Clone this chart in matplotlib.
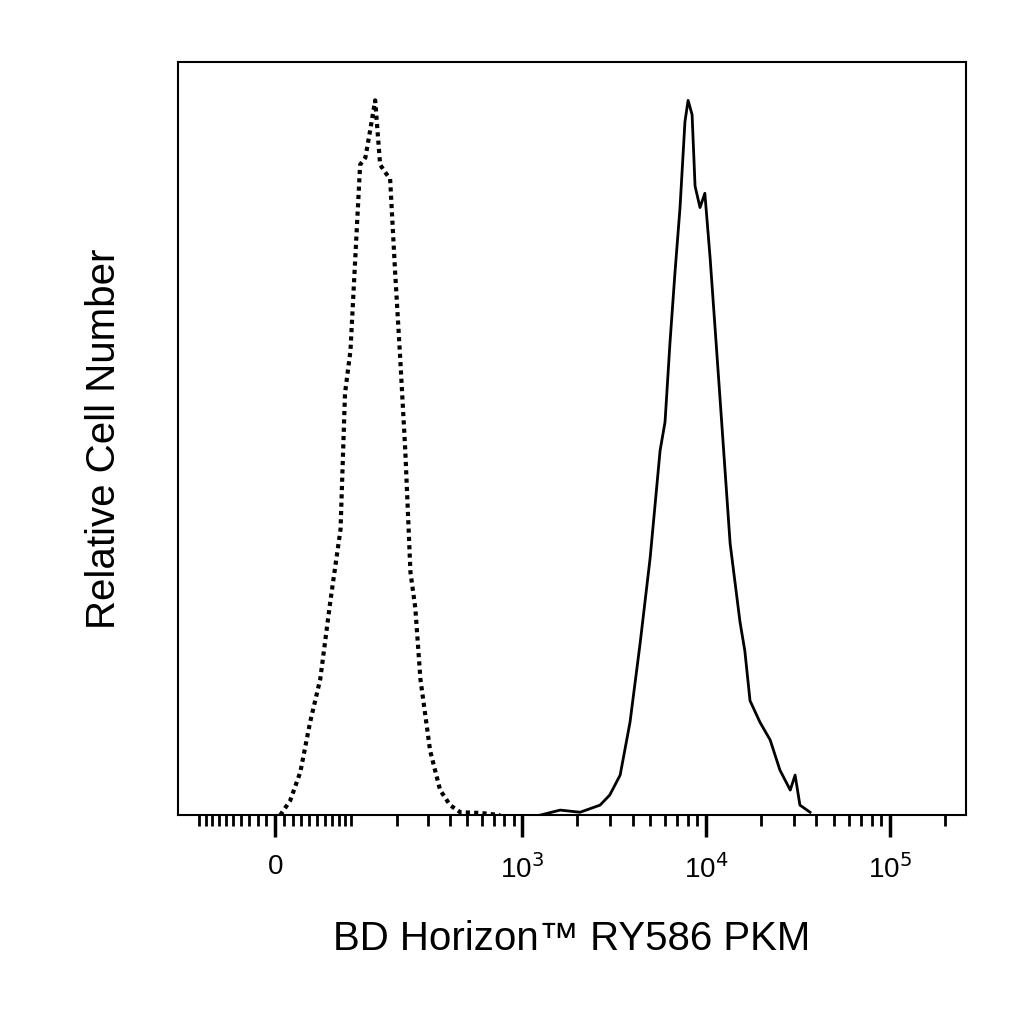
import numpy as np
import matplotlib
matplotlib.use("Agg")
import matplotlib.pyplot as plt
from matplotlib.ticker import FixedLocator, NullFormatter

plt.rcParams['font.family'] = ['Liberation Sans', 'DejaVu Sans']

# Isotype control (dotted)
ctrl_x = [5.7, 17, 29, 41, 54, 68, 83, 90, 99, 116, 126, 136, 146, 157, 168, 181, 194, 208,
          223, 239, 255, 273, 310, 353, 401, 457, 590, 759]
ctrl_y = [0, 2, 6, 13, 19, 30, 40, 59, 65, 91, 92, 96, 100, 91, 90, 89, 76, 64,
          51, 34, 29, 19, 9, 3.5, 1.4, 0.4, 0.3, 0]
# Stained sample (solid)
stain_x = [1256, 1612, 2070, 2660, 3000, 3420, 3870, 4390, 4980, 5640, 6000, 6380, 6800, 7240,
           7700, 8010, 8420, 8740, 9300, 9880, 10550, 11240, 11970, 13560, 15350, 16300, 17400,
           19700, 22400, 25300, 28800, 30600, 32500, 36900]
stain_y = [0, 0.7, 0.4, 1.4, 2.8, 5.6, 13, 24, 36, 51, 55, 66, 76, 85,
           97, 100, 98, 88, 85, 87, 78, 68, 58, 38, 27, 23, 16,
           13, 10.5, 6.3, 3.5, 5.6, 1.4, 0.4]

major_ticks = [0, 1000, 10000, 100000]
major_labels = ["0", r"10$^3$", r"10$^4$", r"10$^5$"]

C = 91.0
fwd = lambda x: np.arcsinh(np.asarray(x) / C)
inv = lambda t: C * np.sinh(np.asarray(t))

fig = plt.figure(figsize=(10.24, 10.24), dpi=100)
ax = fig.add_axes([0.174, 0.204, 0.769, 0.735])
ax.set_xscale('function', functions=(fwd, inv))
ax.plot(ctrl_x, ctrl_y, color='black', lw=3, linestyle=(0, (1, 1)))
ax.plot(stain_x, stain_y, color='black', lw=2)
ax.set_xlim(-140, 259000)
ax.set_ylim(0, 105.3)

minor = [-v for v in range(10, 101, 10)] + list(range(10, 100, 10)) + list(range(100, 1000, 100)) \
        + list(range(2000, 10000, 1000)) + list(range(20000, 100000, 10000)) + [200000]
ax.xaxis.set_major_locator(FixedLocator(major_ticks))
ax.set_xticklabels(major_labels, fontsize=20)
ax.xaxis.set_minor_locator(FixedLocator(minor))
ax.xaxis.set_minor_formatter(NullFormatter())
ax.tick_params(axis='x', which='major', length=16, width=2.5, direction='out', pad=12)
ax.tick_params(axis='x', which='minor', length=8, width=2, direction='out')
ax.set_yticks([])
for s in ax.spines.values():
    s.set_linewidth(1.5)
ax.set_xlabel("BD Horizon™ RY586 PKM", fontsize=29, labelpad=26)
ax.set_ylabel("Relative Cell Number", fontsize=29, labelpad=40)
fig.savefig("out.png", dpi=100)
